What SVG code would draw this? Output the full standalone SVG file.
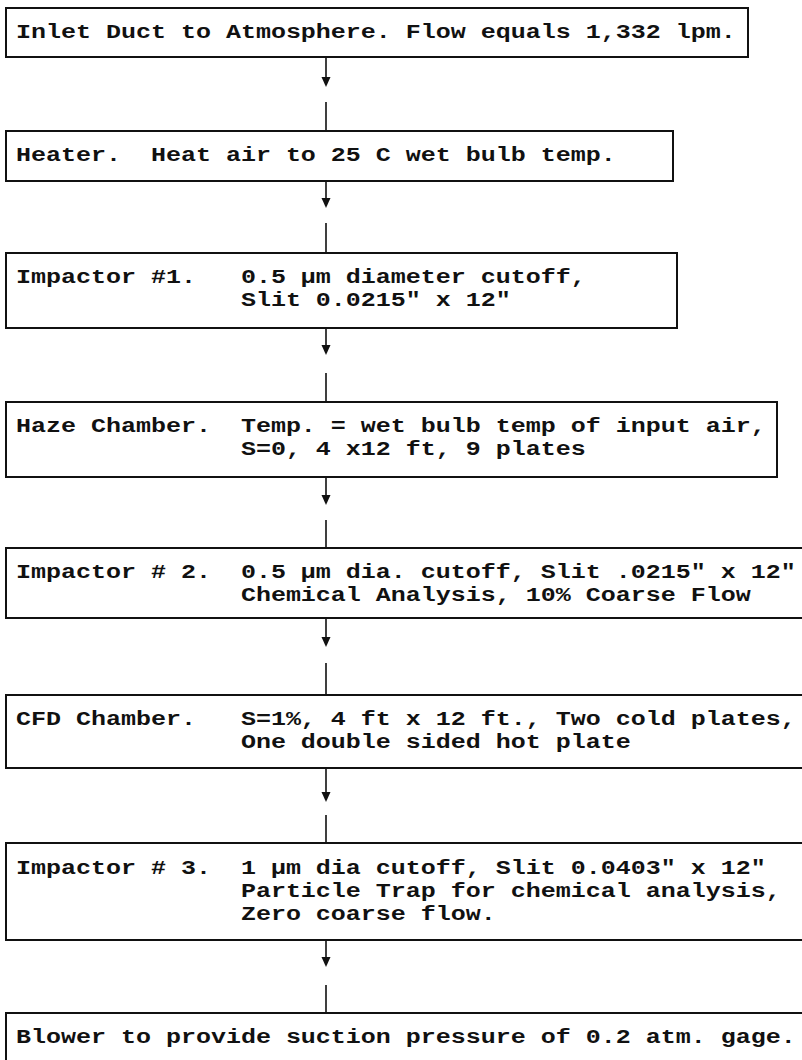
<svg xmlns="http://www.w3.org/2000/svg" width="802" height="1060" viewBox="0 0 802 1060">
<style>
.box{fill:#fff;stroke:#111;stroke-width:2}
.t{font-family:"Liberation Mono","DejaVu Sans Mono",monospace;font-size:20px;font-weight:bold;fill:#111;white-space:pre}
.ln{stroke:#111;stroke-width:1.6;fill:none}
.ah{fill:#111}
</style>
<defs>
<path id="arr" d="M-4.5,0 L4.5,0 L0,10 Z"/>
</defs>
<rect width="802" height="1060" fill="#fff"/>
<g id="connectors">
<path class="ln" d="M326,57V78 M326,102V131"/><use href="#arr" class="ah" x="326" y="77"/>
<path class="ln" d="M326,181V199 M326,223V253"/><use href="#arr" class="ah" x="326" y="198"/>
<path class="ln" d="M326,328V346 M326,373V402"/><use href="#arr" class="ah" x="326" y="345"/>
<path class="ln" d="M326,477V496 M326,520V548"/><use href="#arr" class="ah" x="326" y="495"/>
<path class="ln" d="M326,618V638 M326,663V695"/><use href="#arr" class="ah" x="326" y="637"/>
<path class="ln" d="M326,768V793 M326,815V843"/><use href="#arr" class="ah" x="326" y="792"/>
<path class="ln" d="M326,940V958 M326,985V1013"/><use href="#arr" class="ah" x="326" y="957"/>
</g>
<g id="n1"><rect class="box" x="6" y="8" width="742" height="49"/>
<g transform="scale(1.25 1)"><text class="t" x="12.8" y="38">Inlet Duct to Atmosphere. Flow equals 1,332 lpm.</text></g></g>
<g id="n2"><rect class="box" x="6" y="131" width="667" height="50"/>
<g transform="scale(1.25 1)"><text class="t" x="12.8" y="161">Heater.  Heat air to 25 C wet bulb temp.</text></g></g>
<g id="n3"><rect class="box" x="6" y="253" width="671" height="75"/>
<g transform="scale(1.25 1)"><text class="t" x="12.8" y="283">Impactor #1.   0.5 µm diameter cutoff,</text>
<text class="t" x="12.8" y="306">               Slit 0.0215" x 12"</text></g></g>
<g id="n4"><rect class="box" x="6" y="402" width="771" height="75"/>
<g transform="scale(1.25 1)"><text class="t" x="12.8" y="432">Haze Chamber.  Temp. = wet bulb temp of input air,</text>
<text class="t" x="12.8" y="455">               S=0, 4 x12 ft, 9 plates</text></g></g>
<g id="n5"><rect class="box" x="6" y="548" width="810" height="70"/>
<g transform="scale(1.25 1)"><text class="t" x="12.8" y="578">Impactor # 2.  0.5 µm dia. cutoff, Slit .0215" x 12"</text>
<text class="t" x="12.8" y="601">               Chemical Analysis, 10% Coarse Flow</text></g></g>
<g id="n6"><rect class="box" x="6" y="695" width="810" height="73"/>
<g transform="scale(1.25 1)"><text class="t" x="12.8" y="725">CFD Chamber.   S=1%, 4 ft x 12 ft., Two cold plates,</text>
<text class="t" x="12.8" y="748">               One double sided hot plate</text></g></g>
<g id="n7"><rect class="box" x="6" y="843" width="810" height="97"/>
<g transform="scale(1.25 1)"><text class="t" x="12.8" y="874">Impactor # 3.  1 µm dia cutoff, Slit 0.0403" x 12"</text>
<text class="t" x="12.8" y="897">               Particle Trap for chemical analysis,</text>
<text class="t" x="12.8" y="920">               Zero coarse flow.</text></g></g>
<g id="n8"><rect class="box" x="6" y="1013" width="810" height="60"/>
<g transform="scale(1.25 1)"><text class="t" x="12.8" y="1043">Blower to provide suction pressure of 0.2 atm. gage.</text></g></g>
</svg>
